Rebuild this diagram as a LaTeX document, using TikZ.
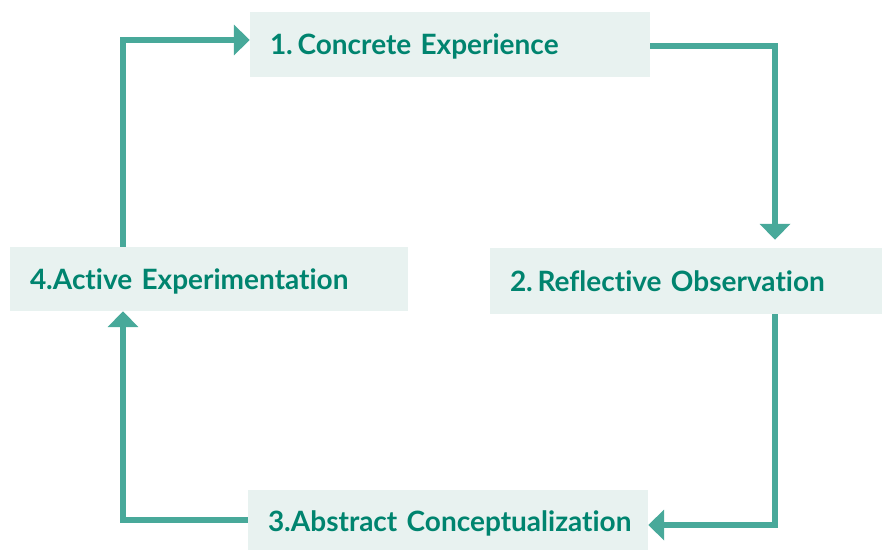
\documentclass[tikz,border=0pt]{standalone}
\usepackage{fontspec}
\setmainfont{Lato}[Ligatures={NoCommon}]
\usetikzlibrary{arrows.meta,calc}
\definecolor{boxfill}{HTML}{E8F2F0}
\definecolor{txt}{HTML}{00846F}
\definecolor{arr}{HTML}{48A99A}
\begin{document}
\begin{tikzpicture}[x=1pt,y=1pt,
  stage/.style={fill=boxfill, draw=none, inner xsep=20pt, inner ysep=0pt,
    text height=20pt, text depth=0pt,
    anchor=center, align=left, text=txt, font=\fontsize{28}{32}\selectfont\bfseries},
  flow/.style={draw=arr, line width=6pt, -{Triangle[width=30pt,length=16pt]}}]
\useasboundingbox (0,0) rectangle (882,550);
\node[stage, minimum height=65pt, text width=360pt] (b1) at (450,505.5) {\mbox{1.\,Concrete Experience}};
\node[stage, minimum height=66pt, text width=352pt] (b2) at (686,269) {\mbox{2.\,Reflective Observation}};
\node[stage, minimum height=60pt, text width=360pt, text height=22pt] (b3) at (448,30) {\mbox{3.Abstract Conceptualization}};
\node[stage, minimum height=64pt, text width=358pt] (b4) at (209,271) {\mbox{4.Active Experimentation}};
\coordinate (rx) at (775,0);
\coordinate (lx) at (123,0);
\draw[flow, shorten >=8pt] ($(b1.east)+(0,-1.5)$) -| (b2.north -| rx);
\draw[flow] (b2.south -| rx) |- ($(b3.east)+(0,-5)$);
\draw[flow] (b3.west) -| (b4.south -| lx);
\draw[flow] (b4.north -| lx) |- ($(b1.west)+(0,4.5)$);
\end{tikzpicture}
\end{document}
